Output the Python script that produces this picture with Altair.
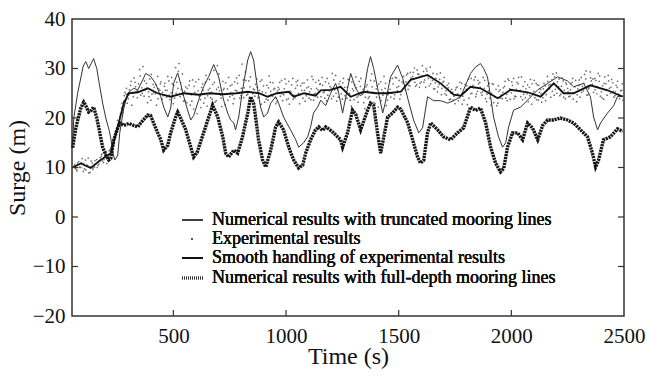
import altair as alt
import pandas as pd

FONT = "Liberation Serif"

# ---------------- data ----------------
trunc_t = [53, 58, 75, 100, 111, 124, 135, 146, 160, 169, 186, 200, 209, 215, 222, 231, 240, 253, 262, 280,
           297, 324, 342, 364, 377, 399, 421, 444, 457, 475, 488, 501, 519, 532, 546, 563, 577, 590, 612, 634,
           657, 679, 701, 723, 741, 754, 768, 776, 790, 807, 830, 843, 856, 874, 887, 901, 918, 932, 954, 967,
           989, 1020, 1043, 1056, 1078, 1096, 1109, 1122, 1140, 1154, 1176, 1198, 1220, 1234, 1251, 1273, 1287,
           1309, 1331, 1344, 1362, 1375, 1389, 1411, 1429, 1440, 1464, 1495, 1518, 1540, 1566, 1589, 1606, 1628,
           1655, 1686, 1717, 1744, 1775, 1819, 1841, 1863, 1877, 1894, 1908, 1921, 1943, 1961, 1975, 1988, 2010,
           2041, 2072, 2117, 2161, 2205, 2249, 2276, 2321, 2351, 2365, 2383, 2396, 2427, 2454, 2471, 2494]
trunc_y = [15, 20, 25, 30.5, 31.4, 30, 31, 32, 30, 27.5, 23, 20, 18.5, 17.5, 16, 13, 11.5, 12.5, 17, 22,
           25, 26, 25.7, 27.7, 29, 28.4, 27, 24.3, 22.2, 20.2, 22, 27, 29.1, 27, 24.3, 21.6, 19.6, 20.5, 23.6, 26.3,
           28.4, 30.8, 28.3, 23.6, 21, 19.6, 19, 17.6, 20.2, 25.7, 31.7, 33.4, 31.7, 25.7, 22.2, 20.2, 21, 23, 24.3, 23,
           20.2, 17.6, 15.6, 14.1, 15, 16.2, 18.2, 21, 22.2, 23.6, 22.5, 25, 27, 25, 21, 26, 29,
           26, 24.5, 25, 30, 32.4, 30, 25, 21, 23, 28.3, 30.7, 28, 24, 19.6, 17, 18, 24.3,
           23.5, 23.5, 23, 23.5, 24.3, 29, 30.3, 31, 30, 28.3, 24.3, 20.2, 16.2, 14.1, 15, 18.2, 21.6,
           22.2, 23.6, 25.7, 27, 28.3, 27.5, 26.3, 27, 24.3, 20.2, 17.6, 19, 21, 22.5, 24.3, 24.5]

full_t = [53, 67, 89, 102, 111, 124, 135, 146, 160, 169, 186, 200, 213, 222, 235, 253, 262, 280, 302, 324,
          342, 355, 386, 399, 421, 444, 457, 475, 488, 510, 519, 532, 555, 577, 590, 605, 634, 657, 674, 697,
          719, 732, 745, 768, 785, 807, 830, 843, 856, 865, 878, 896, 910, 932, 954, 967, 989, 1012, 1034, 1056,
          1074, 1087, 1109, 1131, 1145, 1162, 1176, 1189, 1211, 1242, 1251, 1273, 1295, 1309, 1331, 1362, 1375,
          1389, 1406, 1420, 1433, 1451, 1473, 1495, 1509, 1540, 1562, 1584, 1597, 1611, 1628, 1642, 1673, 1699,
          1730, 1761, 1788, 1819, 1841, 1863, 1886, 1908, 1930, 1952, 1966, 1983, 2005, 2028, 2050, 2072, 2094,
          2117, 2139, 2161, 2188, 2218, 2249, 2276, 2307, 2338, 2360, 2374, 2387, 2409, 2440, 2471, 2494]
full_y = [14, 18, 22, 23.2, 22.5, 21.2, 21.5, 22.2, 20, 18, 14.1, 12.5, 11.5, 11.8, 15.5, 18, 19, 18.5, 18.9, 18.5,
          18.2, 19, 20.6, 20.5, 18, 15.6, 13.5, 14.5, 17, 20.2, 21.2, 20, 17.6, 14.1, 12.1, 13, 17, 20.2, 22.6, 20.2,
          16.2, 12.9, 12.1, 13.5, 12.9, 16.2, 21, 24.3, 23, 20.2, 15.6, 11.5, 10.1, 13.5, 18.2, 19.2, 17.6, 14.1, 11.5, 9.9,
          10.5, 12.9, 15.6, 17.6, 18.2, 17.5, 18.2, 17.8, 17, 15.6, 14.1, 17, 21.6, 20.8, 17.6, 21.6, 23,
          22.5, 17, 12.9, 16, 20.2, 21, 22.2, 21.8, 19, 15.6, 12.1, 10.9, 11.5, 17, 19, 17.6, 16.2,
          15.6, 17, 18, 22.2, 21.5, 22, 19, 14.1, 10.9, 9.1, 9.8, 14.1, 17, 17, 15.6, 19, 18,
          15.6, 18.5, 19.6, 19.6, 20, 19.6, 19, 17.6, 16.2, 12.9, 10.1, 11.5, 15.6, 16.2, 17.8, 17.3]

smooth_t = [53, 89, 133, 177, 222, 253, 280, 302, 342, 386, 430, 488, 546, 612, 660, 720, 780, 830, 880, 918,
            960, 1012, 1034, 1080, 1131, 1154, 1198, 1242, 1287, 1344, 1400, 1451, 1509, 1553, 1628, 1686, 1744,
            1775, 1819, 1863, 1940, 1997, 2072, 2130, 2188, 2232, 2276, 2351, 2427, 2494]
smooth_y = [10, 10.8, 9.9, 11.5, 12.9, 18.2, 23, 25, 25.2, 26, 25, 24.3, 25, 24.7, 25, 24.8, 25, 25.3, 25, 24.3,
            25, 25.3, 24.3, 25, 24.5, 25.6, 25.7, 26.3, 24.3, 25.3, 25, 25, 25.3, 27.7, 28.7, 27, 24.7,
            24.5, 26.3, 26, 24, 25.7, 25.2, 24.3, 27, 25, 25, 26.6, 25.6, 24.3]

# experimental samples, read as three interleaved sets (every 10 s each)
exp_t1 = list(range(60, 2500, 10))
exp_y1 = [10.3, 9.6, 11.2, 10.0, 9.2, 11.5, 10.4, 9.0, 10.9, 10.1,
          11.6, 10.7, 12.3, 11.0, 12.8, 11.9, 13.6, 13.0, 15.8, 17.6,
          19.2, 22.0, 23.4, 24.8, 23.9, 26.6, 25.0, 27.2, 24.1, 29.8,
          26.1, 24.4, 27.0, 25.3, 23.6, 26.8, 24.9, 28.4, 25.6, 23.8,
          26.4, 24.2, 27.5, 25.1, 22.9, 30.2, 26.0, 24.3, 28.9, 25.4,
          23.1, 26.6, 24.7, 21.8, 27.3, 25.5, 23.7, 26.9, 24.0, 22.4,
          27.8, 25.2, 29.6, 23.5, 26.2, 24.6, 27.4, 22.7, 25.9, 24.3,
          26.7, 23.9, 28.1, 25.0, 24.5, 27.7, 29.3, 24.8, 26.3, 23.4,
          25.7, 27.9, 24.2, 22.8, 26.5, 25.1, 23.6, 27.2, 24.4, 26.0,
          23.3, 25.8, 27.6, 24.7, 26.9, 23.9, 25.4, 28.0, 24.1, 26.6,
          22.9, 25.6, 27.1, 24.5, 26.3, 23.7, 27.8, 25.0, 24.2, 26.8,
          28.2, 25.3, 23.5, 27.0, 26.1, 24.4, 28.6, 25.7, 27.4, 23.8,
          26.2, 24.0, 27.7, 22.4, 25.5, 28.3, 23.2, 26.4, 24.9, 21.9,
          26.7, 24.3, 28.9, 23.1, 25.9, 22.2, 27.3, 24.6, 26.0, 23.6,
          27.5, 25.0, 23.9, 28.1, 26.4, 24.7, 27.0, 25.6, 29.0, 26.5,
          27.9, 30.1, 26.7, 28.8, 27.3, 29.4, 26.2, 28.5, 30.3, 27.6,
          25.9, 28.9, 26.8, 24.7, 27.4, 25.5, 26.1, 23.8, 25.2, 22.9,
          26.3, 24.1, 27.0, 23.6, 25.8, 27.9, 24.9, 26.6, 28.3, 25.4,
          27.2, 24.6, 26.0, 23.3, 25.5, 22.6, 26.8, 24.2, 23.0, 25.7,
          23.9, 26.4, 24.8, 27.6, 25.1, 28.0, 24.3, 26.9, 25.6, 23.7,
          27.3, 24.9, 26.2, 22.8, 25.4, 27.0, 23.6, 25.8, 24.1, 26.5,
          28.4, 25.9, 27.7, 24.6, 29.1, 26.3, 24.8, 27.5, 23.9, 26.0,
          24.4, 27.2, 25.1, 23.3, 26.6, 28.2, 25.5, 27.9, 24.7, 29.3,
          26.8, 28.0, 24.9, 27.4, 25.3, 23.8, 26.9, 28.6, 25.0, 27.1,
          24.5, 26.2, 23.9, 25.6]
exp_t2 = list(range(65, 2500, 10))
exp_y2 = [9.8, 10.9, 10.1, 11.8, 9.7, 10.5, 8.9, 11.3, 9.9, 10.7,
          10.4, 12.0, 11.3, 12.9, 10.8, 13.4, 12.5, 14.7, 16.9, 18.8,
          20.8, 21.1, 25.2, 23.0, 25.7, 22.6, 28.1, 25.4, 26.9, 24.6,
          30.4, 25.7, 23.1, 27.9, 24.8, 26.2, 22.6, 25.9, 27.3, 24.5,
          25.6, 28.4, 23.7, 26.9, 24.0, 27.2, 31.0, 25.8, 23.4, 26.3,
          24.9, 22.6, 27.7, 25.2, 20.9, 24.4, 26.2, 23.0, 28.6, 25.7,
          24.1, 26.8, 23.2, 30.6, 25.5, 22.3, 26.0, 24.8, 28.2, 25.1,
          22.9, 25.6, 27.0, 24.0, 30.9, 26.1, 24.6, 27.5, 23.7, 25.9,
          26.8, 24.1, 27.4, 25.3, 23.2, 26.6, 28.5, 24.7, 25.8, 22.9,
          26.2, 24.4, 23.5, 27.9, 25.2, 22.8, 26.7, 24.6, 27.3, 25.0,
          26.5, 24.0, 23.4, 27.7, 25.3, 28.4, 24.8, 26.0, 27.6, 24.3,
          25.1, 27.3, 24.6, 26.4, 29.0, 25.7, 23.4, 26.9, 24.9, 28.0,
          25.3, 27.8, 23.6, 25.9, 26.7, 24.2, 27.4, 25.0, 23.1, 26.3,
          24.0, 27.6, 25.2, 22.9, 26.5, 24.1, 25.7, 28.4, 22.5, 25.3,
          24.2, 26.9, 28.2, 25.5, 23.8, 27.3, 26.0, 28.7, 26.6, 28.1,
          29.2, 26.4, 28.9, 27.0, 30.6, 27.7, 29.5, 26.5, 28.2, 25.9,
          28.0, 26.3, 29.1, 27.2, 24.9, 26.6, 23.7, 25.8, 24.4, 26.1,
          23.5, 25.9, 24.4, 26.8, 22.7, 26.2, 25.0, 27.7, 24.8, 26.9,
          25.1, 28.2, 23.9, 26.5, 24.0, 26.9, 24.3, 22.5, 25.4, 24.6,
          26.1, 24.0, 27.9, 23.8, 26.6, 24.4, 27.2, 25.5, 28.3, 24.8,
          25.9, 23.3, 27.8, 25.0, 24.1, 26.7, 25.2, 23.2, 27.0, 24.7,
          26.6, 24.2, 28.9, 25.8, 27.3, 24.5, 28.1, 25.6, 26.8, 24.3,
          26.9, 23.8, 27.6, 25.9, 24.2, 26.4, 28.8, 24.6, 26.1, 27.5,
          25.2, 27.6, 29.0, 24.4, 26.5, 28.3, 24.6, 26.0, 27.8, 24.2,
          26.6, 24.8, 25.5, 23.6]
exp_t3 = list(range(62, 2500, 10))
exp_y3 = [10.6, 9.3, 10.0, 11.0, 10.8, 9.5, 11.9, 10.2, 9.6, 11.4,
          10.0, 11.4, 12.7, 11.6, 13.2, 12.4, 14.0, 15.5, 17.2, 19.5,
          20.3, 23.0, 24.5, 26.0, 24.7, 27.4, 24.3, 26.3, 25.5, 28.5,
          25.0, 27.5, 26.0, 24.3, 28.8, 25.1, 26.7, 23.9, 26.9, 25.2,
          27.0, 25.6, 24.6, 28.2, 26.6, 25.0, 29.4, 27.1, 24.7, 23.5,
          26.0, 27.5, 23.4, 26.4, 24.8, 27.8, 22.1, 25.6, 27.2, 24.5,
          26.0, 23.8, 27.2, 25.8, 28.9, 24.0, 25.7, 27.1, 23.6, 26.5,
          24.6, 27.3, 25.5, 28.6, 26.0, 24.1, 27.6, 25.3, 28.3, 24.9,
          24.4, 26.2, 25.6, 27.7, 24.6, 23.8, 26.1, 25.4, 27.1, 24.1,
          25.5, 27.2, 24.9, 25.9, 23.7, 27.4, 25.1, 23.8, 26.0, 27.6,
          24.7, 27.0, 25.6, 26.1, 24.0, 25.9, 23.6, 27.2, 25.7, 26.9,
          26.6, 24.0, 28.0, 25.5, 23.9, 27.7, 25.0, 24.2, 26.4, 27.1,
          24.5, 26.2, 25.0, 27.3, 23.7, 26.1, 24.5, 28.0, 25.8, 24.2,
          25.5, 23.0, 26.3, 27.5, 24.2, 26.9, 23.5, 25.2, 27.0, 24.7,
          25.8, 28.0, 24.7, 26.2, 27.6, 25.4, 28.4, 27.3, 25.8, 29.2,
          28.4, 27.2, 29.7, 26.2, 28.5, 27.2, 30.0, 28.0, 26.9, 29.0,
          27.1, 25.3, 27.8, 26.0, 28.2, 24.6, 27.0, 25.0, 23.6, 25.7,
          24.9, 27.2, 22.8, 25.2, 26.5, 24.0, 28.0, 26.1, 24.3, 27.6,
          26.2, 25.3, 27.6, 24.8, 27.0, 25.0, 23.1, 25.8, 26.5, 24.0,
          25.2, 27.4, 23.5, 25.9, 27.3, 23.9, 25.8, 28.2, 24.3, 26.4,
          24.1, 26.7, 24.5, 26.9, 27.6, 23.7, 26.6, 24.9, 25.9, 23.5,
          27.4, 26.8, 25.4, 28.3, 25.0, 27.9, 26.4, 24.2, 27.1, 25.3,
          25.7, 28.0, 26.3, 24.7, 27.7, 25.2, 27.0, 29.5, 25.9, 28.1,
          27.9, 25.7, 26.3, 28.5, 24.1, 27.0, 25.7, 27.5, 26.2, 25.4,
          25.3, 27.4, 24.6, 26.9]

x_ticks = [500, 1000, 1500, 2000, 2500]
y_ticks = [-20, -10, 0, 10, 20, 30, 40]
x_inner_ticks = [500, 1000, 1500, 2000]
y_inner_ticks = [-10, 0, 10, 20, 30]

legend_labels = ["Numerical results with truncated mooring lines",
                 "Experimental results",
                 "Smooth handling of experimental results",
                 "Numerical results with full-depth mooring lines"]

# ---------------- frames ----------------
df_trunc = pd.DataFrame({"t": trunc_t, "y": trunc_y})
df_full = pd.DataFrame({"t": full_t, "y": full_y})
df_smooth = pd.DataFrame({"t": smooth_t, "y": smooth_y})
pairs = list(zip(exp_t1, exp_y1)) + list(zip(exp_t2, exp_y2)) + list(zip(exp_t3, exp_y3))
df_exp = pd.DataFrame(pairs, columns=["t", "y"])
df_xt = pd.DataFrame({"t": x_inner_ticks})
df_yt = pd.DataFrame({"y": y_inner_ticks})

W, H = 552, 297

xs = alt.Scale(domain=[50, 2500], nice=False, zero=False)
ys = alt.Scale(domain=[-20, 40], nice=False, zero=False)

xax = alt.Axis(values=x_ticks, format="d", ticks=False, tickSize=0, grid=False, domain=False,
               labelFont=FONT, labelFontSize=21, labelColor="#111", labelPadding=9,
               labelFlush=False, title="Time (s)", titleFont=FONT, titleFontSize=24,
               titleFontWeight="normal", titleColor="#111", titleY=40, titleBaseline="middle")
yax = alt.Axis(values=y_ticks, format="d", ticks=False, tickSize=0, grid=False, domain=False,
               labelFont=FONT, labelFontSize=21, labelColor="#111", labelPadding=7,
               title="Surge (m)", titleFont=FONT, titleFontSize=24, titleFontWeight="normal",
               titleColor="#111", titleX=-55, titleY=H / 2, titleAngle=-90,
               titleBaseline="middle", titleAlign="center")

X = alt.X("t:Q", scale=xs, axis=xax)
Y = alt.Y("y:Q", scale=ys, axis=yax)

exp_layer = alt.Chart(df_exp).mark_circle(size=3, color="#555", opacity=0.85).encode(x=X, y=Y)
trunc_layer = alt.Chart(df_trunc).mark_line(color="#333", strokeWidth=1).encode(x=X, y=Y, order="t:Q")
full_layer = alt.Chart(df_full).mark_line(color="#151515", strokeWidth=3.4, strokeDash=[2.2, 0.8]).encode(
    x=X, y=Y, order="t:Q")
smooth_layer = alt.Chart(df_smooth).mark_line(color="#111", strokeWidth=1.8).encode(x=X, y=Y, order="t:Q")

# inward ticks
tick_style = dict(color="#333", strokeWidth=1.2)
bot_ticks = alt.Chart(df_xt).mark_rule(**tick_style).encode(
    x=alt.X("t:Q", scale=xs), y=alt.value(H), y2=alt.value(H - 6))
top_ticks = alt.Chart(df_xt).mark_rule(**tick_style).encode(
    x=alt.X("t:Q", scale=xs), y=alt.value(0), y2=alt.value(6))
left_ticks = alt.Chart(df_yt).mark_rule(**tick_style).encode(
    y=alt.Y("y:Q", scale=ys), x=alt.value(0), x2=alt.value(6))
right_ticks = alt.Chart(df_yt).mark_rule(**tick_style).encode(
    y=alt.Y("y:Q", scale=ys), x=alt.value(W), x2=alt.value(W - 6))

# legend (drawn inside the plot)
rows = [201, 220, 239, 259]
lx0, lx1, tx = 110, 131, 140
leg = []
leg.append(alt.Chart(df_xt).mark_rule(color="#333", strokeWidth=1).encode(
    x=alt.value(lx0), x2=alt.value(lx1), y=alt.value(rows[0])))
leg.append(alt.Chart(df_xt).mark_point(filled=True, size=3, color="#333", shape="circle").encode(
    x=alt.value(120), y=alt.value(rows[1])))
leg.append(alt.Chart(df_xt).mark_rule(color="#111", strokeWidth=2).encode(
    x=alt.value(lx0), x2=alt.value(lx1), y=alt.value(rows[2])))
leg.append(alt.Chart(df_xt).mark_rule(color="#333", strokeWidth=2.5, strokeDash=[1, 1]).encode(
    x=alt.value(lx0), x2=alt.value(lx1), y=alt.value(rows[3])))
for lab, ry in zip(legend_labels, rows):
    leg.append(alt.Chart(df_xt).mark_text(text=lab, font=FONT, fontSize=18, fontWeight="normal",
                                          color="#111", align="left", baseline="middle").encode(
        x=alt.value(tx), y=alt.value(ry)))

chart = alt.layer(exp_layer, trunc_layer, full_layer, smooth_layer,
                  bot_ticks, top_ticks, left_ticks, right_ticks, *leg).properties(
    width=W, height=H,
    autosize=alt.AutoSizeParams(type="none"),
    padding={"left": 72, "top": 19, "right": 23, "bottom": 60},
    background="white",
).configure_view(stroke="#333", strokeWidth=1.5)

chart.save("out.html", embed_options={"renderer": "svg", "actions": False})
